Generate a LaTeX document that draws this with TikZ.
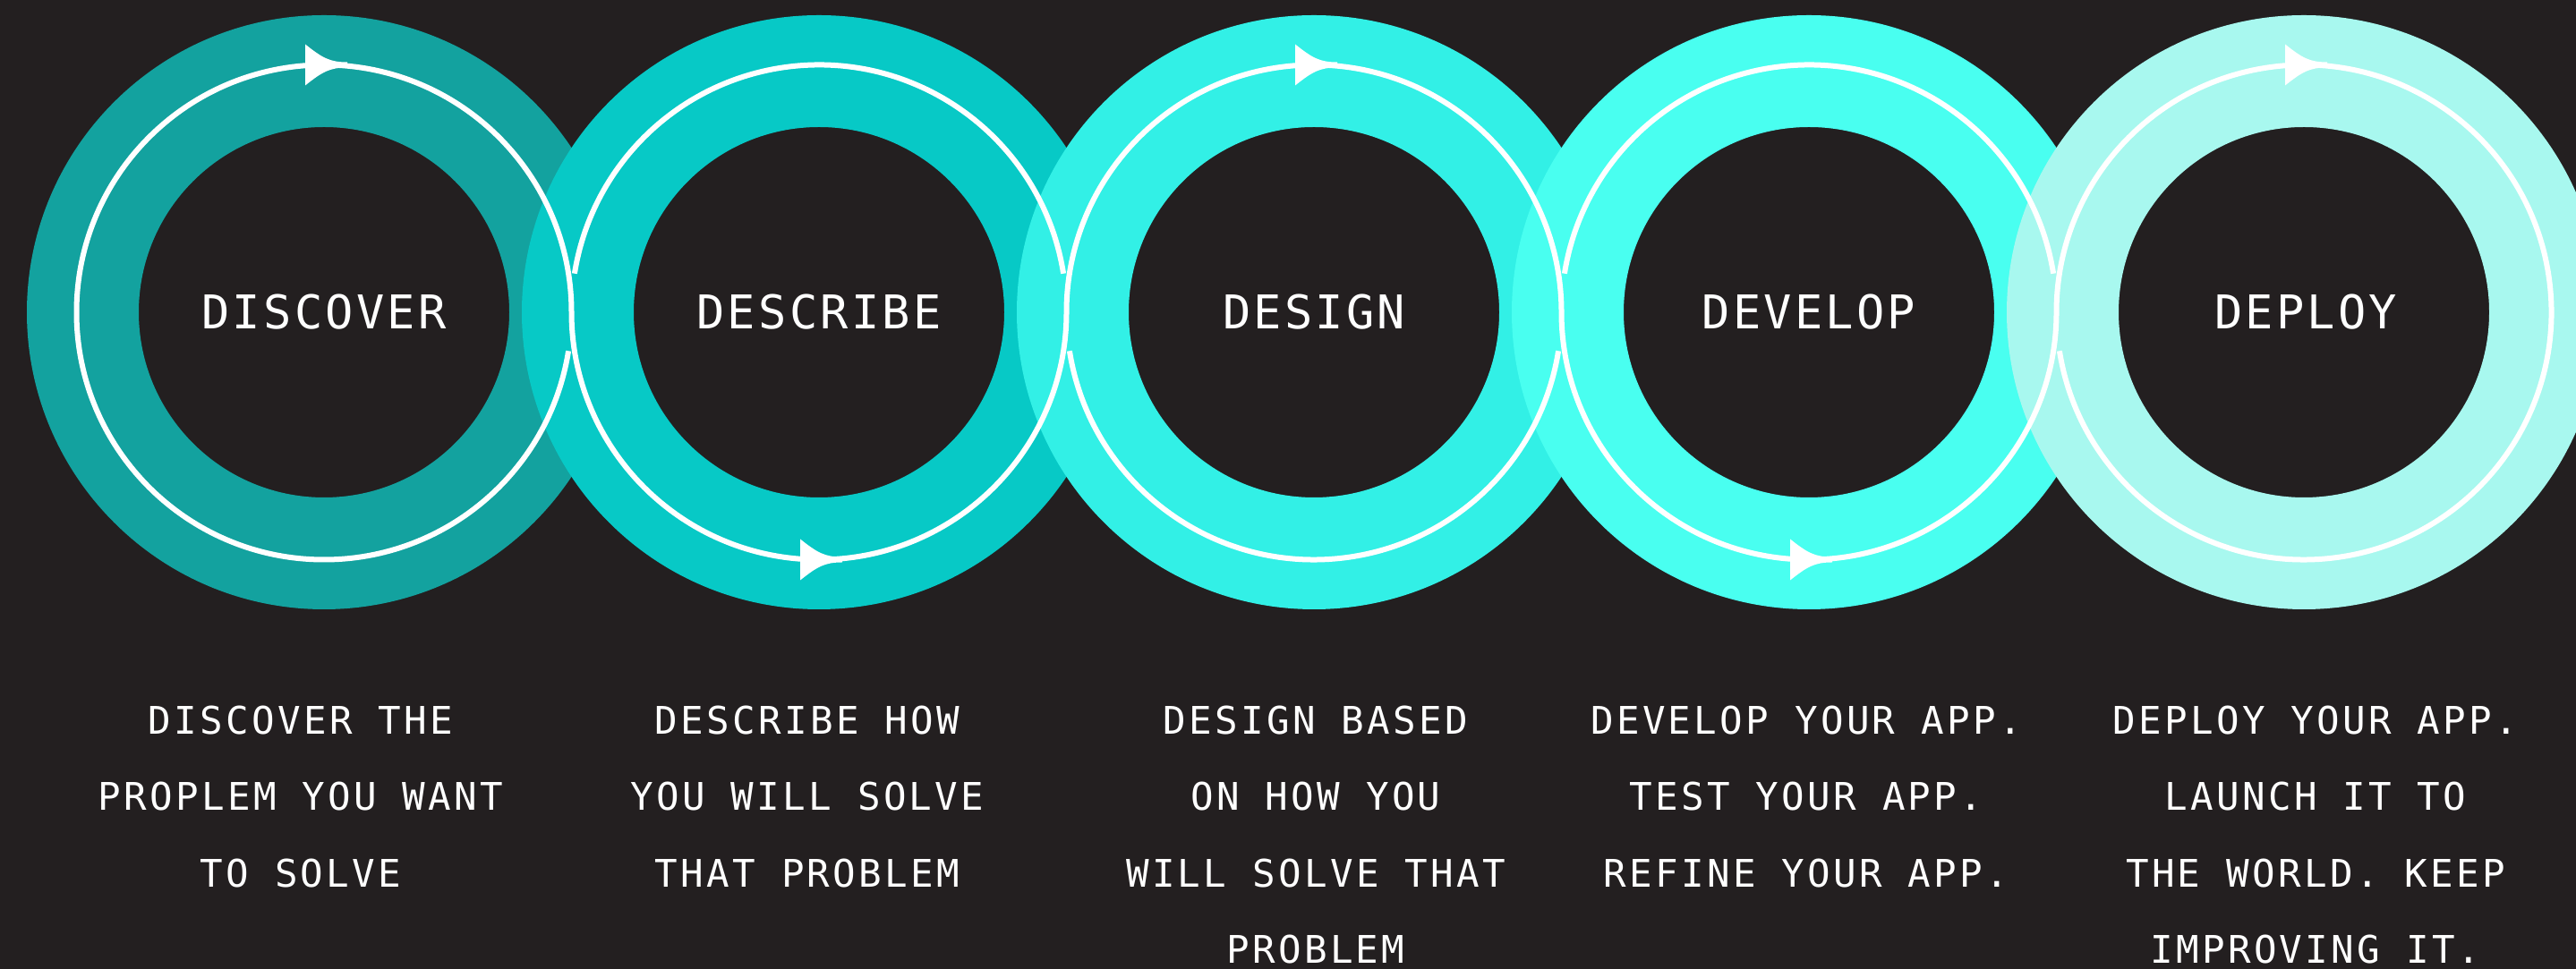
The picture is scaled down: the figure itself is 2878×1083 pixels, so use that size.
\documentclass[tikz,border=0pt]{standalone}
\usepackage{fontspec}
\newfontfamily\titlefont[LetterSpace=6.2]{DejaVu Sans Mono}
\newfontfamily\bodyfont[LetterSpace=7.8]{DejaVu Sans Mono}
\definecolor{bg}{HTML}{231F20}
\definecolor{ringA}{HTML}{13A29F}
\definecolor{ringB}{HTML}{07C9C6}
\definecolor{ringC}{HTML}{32F0E6}
\definecolor{ringD}{HTML}{49FFF0}
\definecolor{ringE}{HTML}{A8F8EF}
\begin{document}
\begin{tikzpicture}[x=1pt,y=1pt,
  ringfill/.style={even odd rule},
  loopline/.style={draw=white,line width=6pt},
  steptitle/.style={font=\titlefont\fontsize{52}{52}\selectfont,text=white,anchor=base,inner sep=0pt},
  stepdesc/.style={font=\bodyfont\fontsize{42.5}{42.5}\selectfont,text=white,anchor=base,inner sep=0pt},
  arrowhd/.pic={\fill[white] (-21,23) .. controls (-2,8) and (6,3) .. (26,3) -- (26,-3) .. controls (6,-3) and (-2,-8) .. (-21,-23) -- cycle;}
]
\useasboundingbox (0,0) rectangle (2878,1083);
\clip (0,0) rectangle (2878,1083);
\fill[bg] (0,0) rectangle (2878,1083);

% rings
\fill[ringA,ringfill] (362,734) circle (332) (362,734) circle (207);
\fill[ringB,ringfill] (915,734) circle (332) (915,734) circle (207);
\fill[ringC,ringfill] (1468,734) circle (332) (1468,734) circle (207);
\fill[ringD,ringfill] (2021,734) circle (332) (2021,734) circle (207);
\fill[ringE,ringfill] (2574,734) circle (332) (2574,734) circle (207);

% white loop
\draw[loopline] (362,734) ++(0:276.5) arc[start angle=0,end angle=351,radius=276.5];
\draw[loopline] (915,734) ++(180:276.5) arc[start angle=180,end angle=360,radius=276.5];
\draw[loopline] (915,734) ++(9:276.5) arc[start angle=9,end angle=171,radius=276.5];
\draw[loopline] (1468,734) ++(0:276.5) arc[start angle=0,end angle=180,radius=276.5];
\draw[loopline] (1468,734) ++(189:276.5) arc[start angle=189,end angle=351,radius=276.5];
\draw[loopline] (2021,734) ++(180:276.5) arc[start angle=180,end angle=360,radius=276.5];
\draw[loopline] (2021,734) ++(9:276.5) arc[start angle=9,end angle=171,radius=276.5];
\draw[loopline] (2574,734) ++(189:276.5) arc[start angle=189,end angle=540,radius=276.5];

% arrowheads
\pic at (362,1010.5) {arrowhd};
\pic at (915,457.5) {arrowhd};
\pic at (1468,1010.5) {arrowhd};
\pic at (2021,457.5) {arrowhd};
\pic at (2574,1010.5) {arrowhd};

% titles
\node[steptitle] (t1) at (362,715) {DISCOVER};
\node[steptitle] (t2) at (915,715) {DESCRIBE};
\node[steptitle] (t3) at (1468,715) {DESIGN};
\node[steptitle] (t4) at (2021,715) {DEVELOP};
\node[steptitle] (t5) at (2576,715) {DEPLOY};

% descriptions
\node[stepdesc] (d1a) at (336,262) {DISCOVER THE};
\node[stepdesc] (d1b) at (336,177) {PROPLEM YOU WANT};
\node[stepdesc] (d1c) at (336,91) {TO SOLVE};

\node[stepdesc] (d2a) at (902,262) {DESCRIBE HOW};
\node[stepdesc] (d2b) at (902,177) {YOU WILL SOLVE};
\node[stepdesc] (d2c) at (902,91) {THAT PROBLEM};

\node[stepdesc] (d3a) at (1470,262) {DESIGN BASED};
\node[stepdesc] (d3b) at (1470,177) {ON HOW YOU};
\node[stepdesc] (d3c) at (1470,91) {WILL SOLVE THAT};
\node[stepdesc] (d3d) at (1470,6) {PROBLEM};

\node[stepdesc] (d4a) at (2018,262) {DEVELOP YOUR APP.};
\node[stepdesc] (d4b) at (2018,177) {TEST YOUR APP.};
\node[stepdesc] (d4c) at (2018,91) {REFINE YOUR APP.};

\node[stepdesc] (d5a) at (2587,262) {DEPLOY YOUR APP.};
\node[stepdesc] (d5b) at (2587,177) {LAUNCH IT TO};
\node[stepdesc] (d5c) at (2587,91) {THE WORLD. KEEP};
\node[stepdesc] (d5d) at (2587,6) {IMPROVING IT.};
\end{tikzpicture}
\end{document}
